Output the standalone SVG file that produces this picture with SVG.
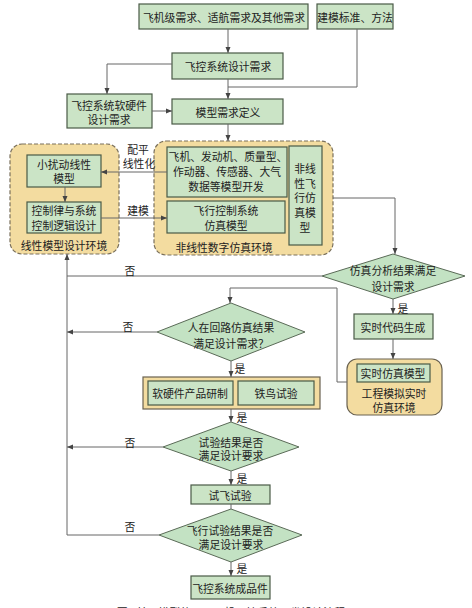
<svg xmlns="http://www.w3.org/2000/svg" width="472" height="608" viewBox="0 0 472 608">
<style>
text{font-family:"Noto Sans CJK SC","Noto Sans",sans-serif;font-size:10.8px;fill:#222;text-anchor:middle;dominant-baseline:central}
.box{fill:#cbe4c6;stroke:#4a5a47;stroke-width:1.2}
.env{fill:#f3dca0;stroke:#7a705c;stroke-width:1.2;stroke-dasharray:4 2}
.envs{fill:#f3dca0;stroke:#6a6250;stroke-width:1.2}
.dia{fill:#c3e2c3;stroke:#5a6a57;stroke-width:1}
.c{fill:none;stroke:#666;stroke-width:1}
</style>
<defs>
<marker id="a" viewBox="0 0 6 6" refX="6" refY="3" markerWidth="6" markerHeight="6" orient="auto" markerUnits="userSpaceOnUse">
<path d="M0,0.5 L6,3 L0,5.5 Z" fill="#444"/>
</marker>
</defs>
<rect width="472" height="608" fill="#fff"/>

<g id="n1"><rect class="box" x="139" y="4" width="169" height="25"/><text x="224" y="17">飞机级需求、适航需求及其他需求</text></g>
<g id="n2"><rect class="box" x="317" y="4" width="76" height="25"/><text x="355" y="17">建模标准、方法</text></g>
<g id="n3"><rect class="box" x="172" y="53" width="111" height="26"/><text x="228" y="66">飞控系统设计需求</text></g>
<g id="n4"><rect class="box" x="67" y="94" width="85" height="34"/><text x="109" y="105">飞控系统软硬件</text><text x="109" y="119">设计需求</text></g>
<g id="n5"><rect class="box" x="172" y="99" width="111" height="25"/><text x="228" y="112">模型需求定义</text></g>

<g id="env-linear"><rect class="env" x="10" y="144" width="109" height="110" rx="12"/><text x="64" y="245">线性模型设计环境</text></g>
<g id="n6"><rect class="box" x="27" y="155" width="74" height="32"/><text x="64" y="164">小扰动线性</text><text x="64" y="178">模型</text></g>
<g id="n7"><rect class="box" x="27" y="202" width="74" height="31"/><text x="64" y="210">控制律与系统</text><text x="64" y="225">控制逻辑设计</text></g>

<g id="env-nonlinear"><rect class="env" x="154" y="141" width="179" height="114" rx="12"/><text x="224" y="247">非线性数字仿真环境</text></g>
<g id="n8"><rect class="box" x="167" y="147" width="120" height="50"/><text x="228" y="156">飞机、发动机、质量型、</text><text x="227" y="171">作动器、传感器、大气</text><text x="226" y="186">数据等模型开发</text></g>
<g id="n9"><rect class="box" x="167" y="201" width="118" height="32"/><text x="226" y="210">飞行控制系统</text><text x="226" y="225">仿真模型</text></g>
<g id="n10"><rect class="box" x="289" y="146" width="33" height="99"/><text x="305" y="168">非线</text><text x="305" y="183">性飞</text><text x="305" y="197">行仿</text><text x="305" y="212">真模</text><text x="305" y="227">型</text></g>

<g id="d1"><polygon class="dia" points="393,254 465,276 393,299 322,276"/><text x="393" y="270">仿真分析结果满足</text><text x="393" y="286">设计需求</text></g>
<g id="n11"><rect class="box" x="354" y="314" width="79" height="25"/><text x="393" y="327">实时代码生成</text></g>
<g id="env-rt"><rect class="envs" x="347" y="359" width="95" height="56" rx="10"/><rect class="box" x="357" y="364" width="73" height="18"/><text x="393" y="373">实时仿真模型</text><text x="394" y="393">工程模拟实时</text><text x="394" y="407">仿真环境</text></g>

<g id="d2"><polygon class="dia" points="231,303 305,332 231,361 157,332"/><text x="231" y="327">人在回路仿真结果</text><text x="231" y="343">满足设计需求？</text></g>
<g id="grp"><rect class="envs" x="143" y="377" width="177" height="32"/><rect class="box" x="148" y="381" width="85" height="24"/><text x="190" y="393">软硬件产品研制</text><rect class="box" x="238" y="381" width="76" height="24"/><text x="276" y="393">铁鸟试验</text></g>
<g id="d3"><polygon class="dia" points="231,422 299,447 231,471 163,447"/><text x="231" y="442">试验结果是否</text><text x="231" y="455">满足设计要求</text></g>
<g id="n12"><rect class="box" x="191" y="485" width="79" height="19"/><text x="230" y="495">试飞试验</text></g>
<g id="d4"><polygon class="dia" points="231,509 302,535 231,562 159,535"/><text x="230" y="530">飞行试验结果是否</text><text x="231" y="544">满足设计要求</text></g>
<g id="n13"><rect class="box" x="191" y="576" width="79" height="23"/><text x="230" y="588">飞控系统成品件</text></g>

<g id="connectors">
<path class="c" d="M228,29 V53" marker-end="url(#a)"/>
<path class="c" d="M357,29 V87 H228"/>
<path class="c" d="M228,79 V99" marker-end="url(#a)"/>
<path class="c" d="M172,64 H107 V94" marker-end="url(#a)"/>
<path class="c" d="M152,111 H172" marker-end="url(#a)"/>
<path class="c" d="M228,124 V141" marker-end="url(#a)"/>
<path class="c" d="M167,172 H101" marker-end="url(#a)"/>
<path class="c" d="M65,187 V202" marker-end="url(#a)"/>
<path class="c" d="M101,218 H167" marker-end="url(#a)"/>
<path class="c" d="M333,198 H395 V254" marker-end="url(#a)"/>
<path class="c" d="M322,276 H67 V254" marker-end="url(#a)"/>
<path class="c" d="M393,299 V314" marker-end="url(#a)"/>
<path class="c" d="M393,339 V359" marker-end="url(#a)"/>
<path class="c" d="M347,382 H337 V288 H230 V303" marker-end="url(#a)"/>
<path class="c" d="M157,332 H67" marker-end="url(#a)"/>
<path class="c" d="M231,361 V377" marker-end="url(#a)"/>
<path class="c" d="M231,409 V422" marker-end="url(#a)"/>
<path class="c" d="M163,447 H67" marker-end="url(#a)"/>
<path class="c" d="M231,471 V485" marker-end="url(#a)"/>
<path class="c" d="M231,504 V509"/>
<path class="c" d="M159,535 H67 V276"/>
<path class="c" d="M231,562 V576" marker-end="url(#a)"/>
<text x="138" y="149">配平</text>
<text x="139" y="163">线性化</text>
<text x="138" y="210">建模</text>
<text x="130" y="270">否</text>
<text x="403" y="308">是</text>
<text x="128" y="326">否</text>
<text x="240" y="368">是</text>
<text x="242" y="417">是</text>
<text x="130" y="442">否</text>
<text x="242" y="478">是</text>
<text x="130" y="526">否</text>
<text x="242" y="568">是</text>
</g>
<text x="231" y="612" style="font-size:11px">图1 基于模型的民用飞机飞控系统研发设计流程</text>
</svg>
